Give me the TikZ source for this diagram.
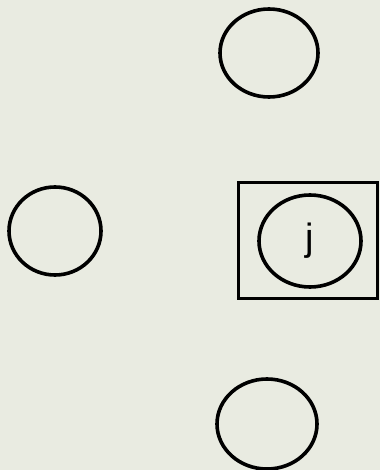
\documentclass[tikz,border=0pt]{standalone}
\usepackage{fontspec}
\setsansfont{Liberation Sans}
\usepackage{tikz}
\usetikzlibrary{shapes,positioning,fit,backgrounds}
\definecolor{paper}{RGB}{233,235,225}

\begin{document}
\begin{tikzpicture}[
    x=1pt, y=-1pt,
    vertex/.style={ellipse, draw, line width=3.6pt, inner sep=0pt, minimum width=96pt, minimum height=88pt},
    frame/.style={rectangle, draw, line width=3pt, inner sep=0pt, minimum width=139pt, minimum height=115pt}
]
% page
\fill[paper] (0,0) rectangle (380,470);
\useasboundingbox (0,0) rectangle (380,470);

% neighbours
\node[vertex, minimum width=98pt] (top) at (269,53) {};
\node[vertex, minimum width=92pt] (left) at (55,231) {};
\node[vertex, minimum width=100pt, minimum height=90pt] (bottom) at (267,424) {};

% marked vertex
\node[frame] (box) at (307.5,240.5) {};
\node[vertex, minimum width=102pt, minimum height=92pt, font=\sffamily\fontsize{38}{38}\selectfont] (j) at (310,241) {j};

\end{tikzpicture}
\end{document}
